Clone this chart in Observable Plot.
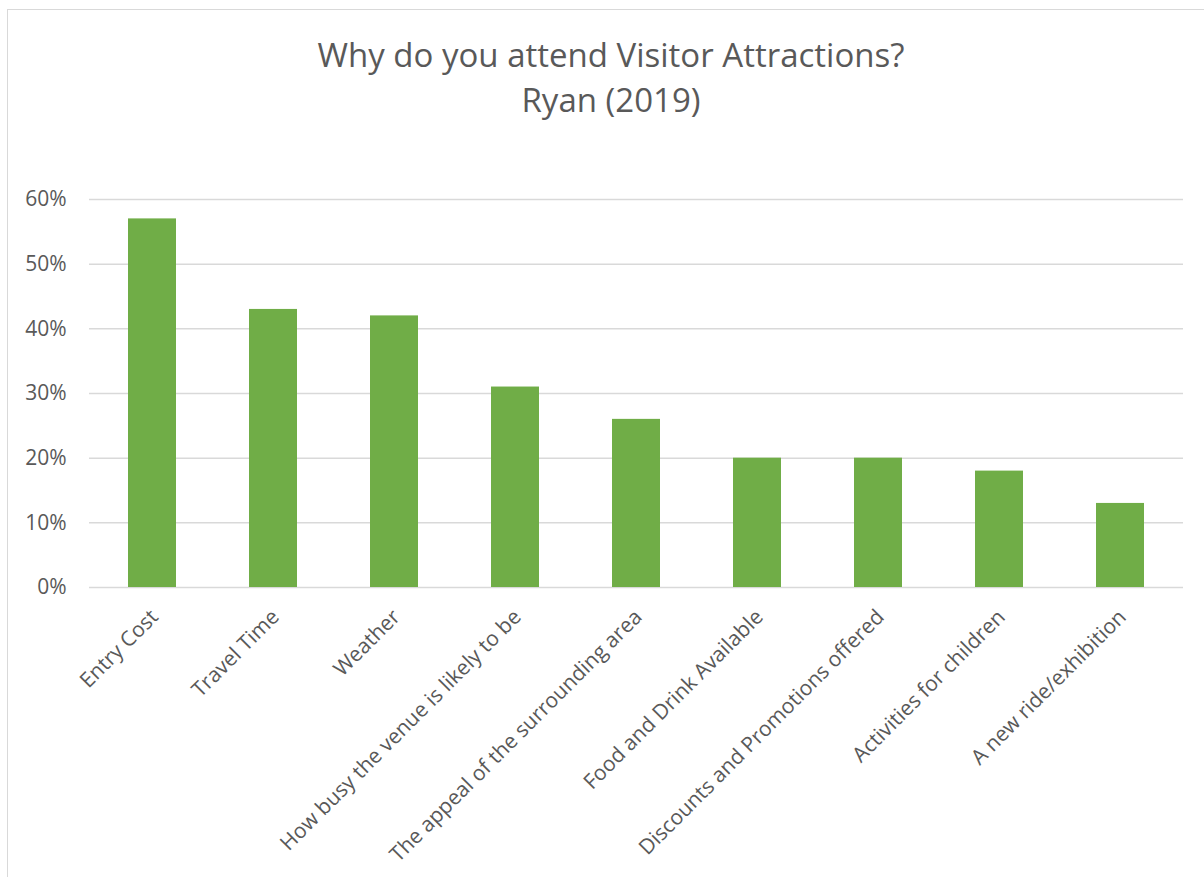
<!DOCTYPE html>
<html>
<head>
<meta charset="utf-8">
<script src="https://cdn.jsdelivr.net/npm/d3@7"></script>
<script src="https://cdn.jsdelivr.net/npm/@observablehq/plot@0.6"></script>
<style>
  html, body { margin: 0; padding: 0; background: #fff; overflow: hidden; width: 1204px; height: 877px; }
  #frame { position: absolute; left: 7px; top: 9px; width: 1400px; height: 1100px; border: 1.5px solid #d9d9d9; box-sizing: border-box; }
  #wrap { position: absolute; left: 0; top: 0; width: 1204px; }
  #title { height: 140px; box-sizing: border-box; padding-top: 32px; text-align: center; font-family: "Open Sans", sans-serif; font-size: 33px; line-height: 45px; color: #595959; padding-left: 18px; }
</style>
</head>
<body>
<div id="frame"></div>
<div id="wrap">
  <div id="title">Why do you attend Visitor Attractions?<br>Ryan (2019)</div>
  <div id="chart"></div>
</div>
<script>
const categories = [
  "Entry Cost",
  "Travel Time",
  "Weather",
  "How busy the venue is likely to be",
  "The appeal of the surrounding area",
  "Food and Drink Available",
  "Discounts and Promotions offered",
  "Activities for children",
  "A new ride/exhibition"
];
const values = [0.57, 0.43, 0.42, 0.31, 0.26, 0.20, 0.20, 0.18, 0.13];
const yTicks = [0, 0.1, 0.2, 0.3, 0.4, 0.5, 0.6];

const data = categories.map((c, i) => ({category: c, value: values[i]}));

const svgTop = 140;
const chart = Plot.plot({
  width: 1204,
  height: 877 - svgTop,
  marginLeft: 89,
  marginRight: 21,
  marginTop: 199 - svgTop,
  marginBottom: 877 - 587,
  style: { fontFamily: "'Open Sans', sans-serif", fontSize: "21px", color: "#595959", background: "transparent" },
  x: { domain: categories, paddingInner: 0.6, paddingOuter: 0.3, align: 0.5, axis: null },
  y: { domain: [0, 0.6], ticks: yTicks, axis: null },
  marks: [
    Plot.gridY(yTicks, { stroke: "#d9d9d9", strokeOpacity: 1, strokeWidth: 1.5 }),
    Plot.barY(data, { x: "category", y: "value", fill: "#70AD47" }),
    Plot.axisY(yTicks, { tickSize: 0, tickPadding: 23, tickFormat: d3.format(".0%"), fontSize: 21, fill: "#595959", label: null }),
    Plot.text(data, {
      x: "category", y: d => 0, text: "category",
      rotate: -45, textAnchor: "end", lineAnchor: "middle",
      dx: 2, dy: 26, fontSize: 21, fill: "#595959"
    })
  ]
});
document.getElementById("chart").appendChild(chart);
</script>
</body>
</html>
